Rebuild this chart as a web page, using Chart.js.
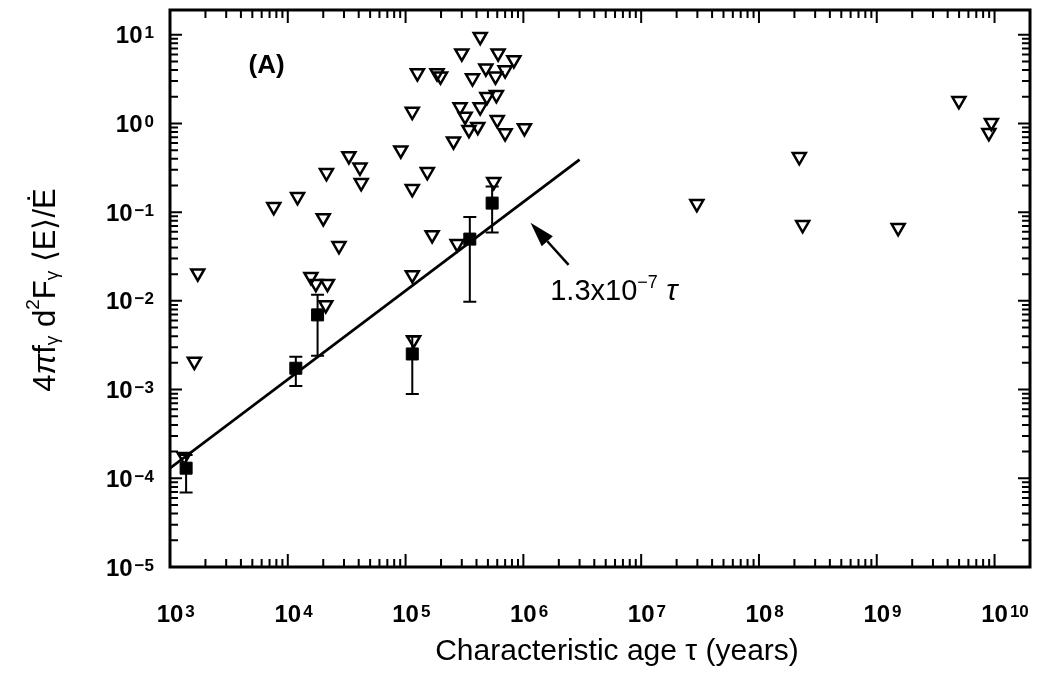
<!DOCTYPE html>
<html>
<head>
<meta charset="utf-8">
<script src="https://cdn.jsdelivr.net/npm/chart.js@4.4.1/dist/chart.umd.min.js"></script>
<style>
  html, body { margin: 0; padding: 0; background: #fff; }
  #wrap { width: 1043px; height: 677px; position: relative; }
</style>
</head>
<body>
<div id="wrap"><canvas id="effChart"></canvas></div>
<script>
// upper limits (open triangles): characteristic age (yr) and efficiency
const limitAge = [
  4.3e5, 3.0e5, 6.1e5, 8.3e5, 1.26e5, 1.85e5, 1.98e5, 3.7e5, 4.8e5, 5.8e5,
  7.0e5, 4.9e5, 5.9e5, 4.3e5, 2.9e5, 3.2e5, 3.45e5, 4.1e5, 6.0e5, 7.0e5,
  1.02e6, 1.14e5, 2.55e5, 9.1e4, 3.3e4, 4.1e4, 4.2e4, 2.13e4, 1.53e5, 1.14e5,
  1.21e4, 7.6e3, 2.0e4, 2.72e4, 1.68e5, 2.74e5, 5.6e5, 1.72e3, 1.57e4, 1.73e4,
  2.17e4, 1.14e5, 2.1e4, 1.61e3, 1.17e5, 1.32e3, 2.97e7, 2.2e8, 2.35e8, 1.52e9,
  4.98e9, 9.4e9, 8.95e9
];
const limitEff = [
  9.5, 6.2, 6.2, 5.2, 3.7, 3.7, 3.4, 3.25, 4.2, 3.4,
  4.0, 2.0, 2.1, 1.53, 1.53, 1.2, 0.85, 0.92, 1.1, 0.78,
  0.89, 1.36, 0.63, 0.50, 0.43, 0.32, 0.214, 0.278, 0.285, 0.183,
  0.149, 0.115, 0.086, 0.0417, 0.0554, 0.044, 0.22, 0.0205, 0.0187, 0.0156,
  0.0156, 0.0196, 0.0090, 0.00207, 0.00363, 1.75e-4, 0.124, 0.42, 0.072, 0.0665,
  1.8, 1.02, 0.785
];

// detections (filled squares) with error bar ends
const detAge  = [1.37e3, 1.17e4, 1.79e4, 1.14e5, 3.51e5, 5.43e5];
const detEff  = [1.30e-4, 1.74e-3, 6.95e-3, 2.52e-3, 0.0497, 0.1265];
const detLow  = [6.9e-5, 1.10e-3, 2.4e-3, 8.9e-4, 9.75e-3, 0.059];
const detHigh = [1.83e-4, 2.34e-3, 0.0117, 3.96e-3, 0.088, 0.195];

// fitted relation: efficiency = fitCoef * age
const fitCoef = 1.3e-7;
const fitAge = [1e3, 3e6];

// decade exponents for the axis labels
const xTickExp = [3, 4, 5, 6, 7, 8, 9, 10];
const yTickExp = [-5, -4, -3, -2, -1, 0, 1];

const INK = '#000';
const FONT = '"Liberation Sans", Arial, sans-serif';

function logTicks(scale) {
  const lo = Math.floor(Math.log10(scale.min));
  const hi = Math.ceil(Math.log10(scale.max));
  const major = [], minor = [];
  for (let e = lo; e <= hi; e++) {
    const d = Math.pow(10, e);
    if (d >= scale.min * 0.999 && d <= scale.max * 1.001) major.push(d);
    for (let m = 2; m <= 9; m++) {
      const v = m * d;
      if (v > scale.min && v < scale.max) minor.push(v);
    }
  }
  return { major, minor };
}

// "10" with a raised exponent; (x, y) is the centre of the "10"
function drawPower(ctx, exp, x, y, align) {
  const base = '10';
  const sup = String(exp).replace('-', '\u2212');
  ctx.font = 'bold 24px ' + FONT;
  const bw = ctx.measureText(base).width;
  ctx.font = 'bold 17px ' + FONT;
  const sw = ctx.measureText(sup).width;
  const x0 = align === 'right' ? x - bw - sw - 2 : x - bw / 2;
  ctx.textAlign = 'left';
  ctx.textBaseline = 'alphabetic';
  ctx.font = 'bold 24px ' + FONT;
  ctx.fillText(base, x0, y + 8.5);
  ctx.font = 'bold 17px ' + FONT;
  ctx.fillText(sup, x0 + bw + 2, y + 3.5);
}

// draws runs of [text, size, dy, style] left to right from (x, y)
function drawRuns(ctx, runs, x, y) {
  let cx = x;
  runs.forEach(([txt, size, dy, style]) => {
    ctx.font = (style || '') + ' ' + size + 'px ' + FONT;
    ctx.fillText(txt, cx, y + dy);
    cx += ctx.measureText(txt).width;
  });
  return cx - x;
}

function runsWidth(ctx, runs) {
  let w = 0;
  runs.forEach(([txt, size, dy, style]) => {
    ctx.font = (style || '') + ' ' + size + 'px ' + FONT;
    w += ctx.measureText(txt).width;
  });
  return w;
}

const errorBars = {
  id: 'errorBars',
  beforeDatasetsDraw(chart) {
    const { ctx, scales: { x, y } } = chart;
    ctx.save();
    ctx.strokeStyle = INK;
    ctx.lineWidth = 2;
    ctx.beginPath();
    detAge.forEach((t, i) => {
      const px = x.getPixelForValue(t);
      const top = y.getPixelForValue(detHigh[i]);
      const bot = y.getPixelForValue(detLow[i]);
      ctx.moveTo(px, top); ctx.lineTo(px, bot);
      ctx.moveTo(px - 6.5, top); ctx.lineTo(px + 6.5, top);
      ctx.moveTo(px - 6.5, bot); ctx.lineTo(px + 6.5, bot);
    });
    ctx.stroke();
    ctx.restore();
  }
};

const frame = {
  id: 'frame',
  afterDatasetsDraw(chart) {
    const { ctx, chartArea: a, scales: { x, y } } = chart;
    ctx.save();
    ctx.strokeStyle = INK;
    ctx.fillStyle = INK;

    // inward ticks on all four sides
    ctx.lineWidth = 2;
    ctx.beginPath();
    const xt = logTicks(x), yt = logTicks(y);
    const tickX = (v, len) => {
      const px = x.getPixelForValue(v);
      ctx.moveTo(px, a.bottom); ctx.lineTo(px, a.bottom - len);
      ctx.moveTo(px, a.top); ctx.lineTo(px, a.top + len);
    };
    const tickY = (v, len) => {
      const py = y.getPixelForValue(v);
      ctx.moveTo(a.left, py); ctx.lineTo(a.left + len, py);
      ctx.moveTo(a.right, py); ctx.lineTo(a.right - len, py);
    };
    xt.major.forEach(v => tickX(v, 13));
    xt.minor.forEach(v => tickX(v, 8));
    yt.major.forEach(v => tickY(v, 12));
    yt.minor.forEach(v => tickY(v, 8));
    ctx.stroke();

    ctx.lineWidth = 3;
    ctx.strokeRect(a.left, a.top, a.right - a.left, a.bottom - a.top);

    // decade labels
    xTickExp.forEach(e => drawPower(ctx, e, x.getPixelForValue(Math.pow(10, e)), a.bottom + 46, 'center'));
    yTickExp.forEach(e => drawPower(ctx, e, a.left - 16, y.getPixelForValue(Math.pow(10, e)), 'right'));

    // panel tag
    ctx.font = 'bold 26px ' + FONT;
    ctx.textAlign = 'center';
    ctx.textBaseline = 'middle';
    ctx.fillText('(A)', x.getPixelForValue(6.6e3), y.getPixelForValue(4.5));

    // arrow towards the fit line
    const tipX = x.getPixelForValue(1.15e6), tipY = y.getPixelForValue(0.076);
    const tailX = x.getPixelForValue(2.42e6), tailY = y.getPixelForValue(0.0255);
    const ang = Math.atan2(tailY - tipY, tailX - tipX);
    const headLen = 25, headHalf = 7.5;
    const bx = tipX + Math.cos(ang) * headLen, by = tipY + Math.sin(ang) * headLen;
    ctx.lineWidth = 2.5;
    ctx.beginPath();
    ctx.moveTo(bx, by); ctx.lineTo(tailX, tailY);
    ctx.stroke();
    ctx.beginPath();
    ctx.moveTo(tipX, tipY);
    ctx.lineTo(bx - Math.sin(ang) * headHalf, by + Math.cos(ang) * headHalf);
    ctx.lineTo(bx + Math.sin(ang) * headHalf, by - Math.cos(ang) * headHalf);
    ctx.closePath();
    ctx.fill();

    // fit label
    ctx.textAlign = 'left';
    ctx.textBaseline = 'alphabetic';
    drawRuns(ctx, [
      ['1.3x10', 29, 0, ''],
      ['\u22127', 18, -12, ''],
      [' \u03c4', 30, 0, 'italic']
    ], x.getPixelForValue(1.69e6), y.getPixelForValue(0.01026));

    // axis titles
    ctx.font = '30px ' + FONT;
    ctx.textAlign = 'center';
    ctx.textBaseline = 'middle';
    ctx.fillText('Characteristic age \u03c4 (years)', 617, 652);

    const yRuns = [
      ['4', 31, 0, ''], ['\u03c0', 31, 0, 'italic'], ['f', 31, 0, ''], ['\u03b3', 19, 7, ''],
      [' d', 31, 0, ''], ['2', 19, -12, ''], ['F', 31, 0, ''], ['\u03b3', 19, 7, ''],
      [' \u27e8E\u27e9/\u0116', 31, 0, '']
    ];
    ctx.save();
    ctx.translate(46, 290);
    ctx.rotate(-Math.PI / 2);
    ctx.textAlign = 'left';
    ctx.textBaseline = 'middle';
    const w = runsWidth(ctx, yRuns);
    drawRuns(ctx, yRuns, -w / 2, 0);
    ctx.restore();

    ctx.restore();
  }
};

new Chart(document.getElementById('effChart'), {
  type: 'scatter',
  data: {
    datasets: [
      {
        label: 'upper limits',
        data: limitAge.map((t, i) => ({ x: t, y: limitEff[i] })),
        pointStyle: 'triangle',
        rotation: 180,
        pointRadius: 7.5,
        backgroundColor: 'rgba(0,0,0,0)',
        borderColor: INK,
        borderWidth: 2.5
      },
      {
        label: 'detections',
        data: detAge.map((t, i) => ({ x: t, y: detEff[i] })),
        pointStyle: 'rect',
        pointRadius: 8.5,
        backgroundColor: INK,
        borderColor: INK,
        borderWidth: 1
      },
      {
        type: 'line',
        label: 'fit',
        data: fitAge.map(t => ({ x: t, y: fitCoef * t })),
        borderColor: INK,
        borderWidth: 2.8,
        pointRadius: 0,
        fill: false
      }
    ]
  },
  options: {
    responsive: true,
    maintainAspectRatio: false,
    animation: false,
    events: [],
    layout: { padding: { left: 170, top: 10, right: 13, bottom: 110 } },
    plugins: { legend: { display: false }, tooltip: { enabled: false } },
    scales: {
      x: { type: 'logarithmic', min: 1e3, max: 2e10, display: false },
      y: { type: 'logarithmic', min: 1e-5, max: 19, display: false }
    }
  },
  plugins: [errorBars, frame]
});
</script>
</body>
</html>
